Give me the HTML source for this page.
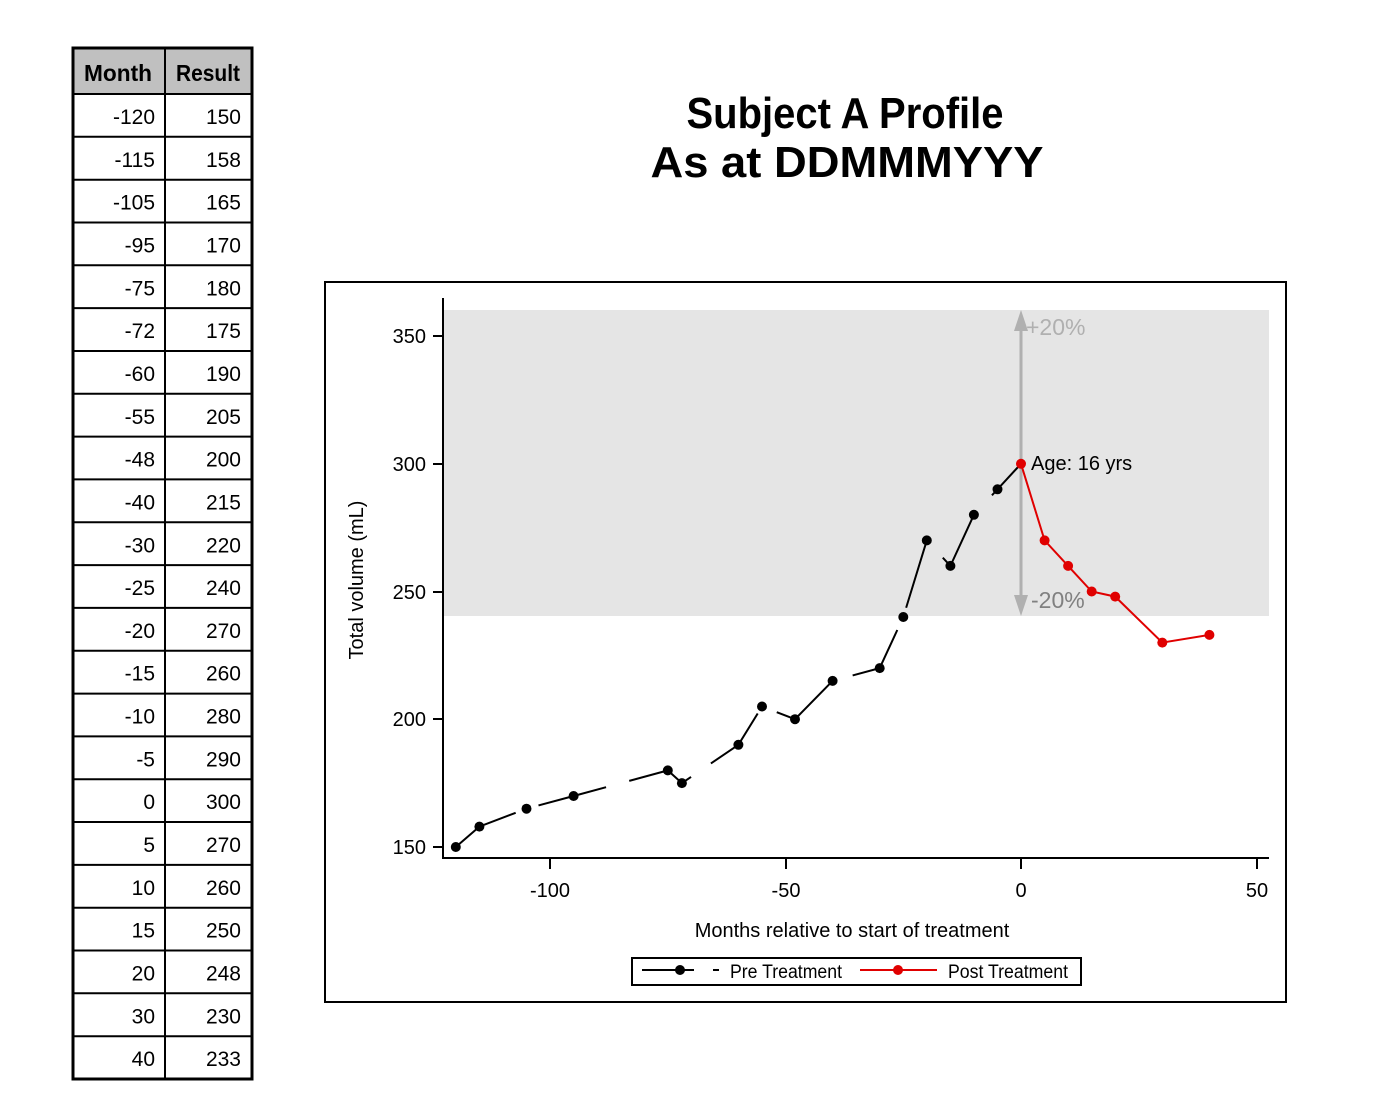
<!DOCTYPE html>
<html><head><meta charset="utf-8"><style>
html,body{margin:0;padding:0;background:#fff;}
svg{display:block;font-family:"Liberation Sans",sans-serif;}
</style></head><body>
<svg width="1379" height="1101" viewBox="0 0 1379 1101" xmlns="http://www.w3.org/2000/svg">
<!-- Table -->
<rect x="73" y="48" width="179" height="46" fill="#c0c0c0"/>
<g stroke="#000" stroke-width="2" fill="none">
<rect x="73" y="48" width="179" height="1031" stroke-width="3"/>
<line x1="165" y1="48" x2="165" y2="1079"/>
<line x1="73" y1="94" x2="252" y2="94"/>
<line x1="73" x2="252" y1="136.8" y2="136.8"/>
<line x1="73" x2="252" y1="179.7" y2="179.7"/>
<line x1="73" x2="252" y1="222.5" y2="222.5"/>
<line x1="73" x2="252" y1="265.3" y2="265.3"/>
<line x1="73" x2="252" y1="308.1" y2="308.1"/>
<line x1="73" x2="252" y1="351" y2="351"/>
<line x1="73" x2="252" y1="393.8" y2="393.8"/>
<line x1="73" x2="252" y1="436.6" y2="436.6"/>
<line x1="73" x2="252" y1="479.4" y2="479.4"/>
<line x1="73" x2="252" y1="522.3" y2="522.3"/>
<line x1="73" x2="252" y1="565.1" y2="565.1"/>
<line x1="73" x2="252" y1="607.9" y2="607.9"/>
<line x1="73" x2="252" y1="650.7" y2="650.7"/>
<line x1="73" x2="252" y1="693.6" y2="693.6"/>
<line x1="73" x2="252" y1="736.4" y2="736.4"/>
<line x1="73" x2="252" y1="779.2" y2="779.2"/>
<line x1="73" x2="252" y1="822" y2="822"/>
<line x1="73" x2="252" y1="864.9" y2="864.9"/>
<line x1="73" x2="252" y1="907.7" y2="907.7"/>
<line x1="73" x2="252" y1="950.5" y2="950.5"/>
<line x1="73" x2="252" y1="993.3" y2="993.3"/>
<line x1="73" x2="252" y1="1036.2" y2="1036.2"/>
</g>
<g font-size="21" text-anchor="end" fill="#000">
<text x="155" y="124">-120</text><text x="241" y="124">150</text>
<text x="155" y="166.8">-115</text><text x="241" y="166.8">158</text>
<text x="155" y="209.7">-105</text><text x="241" y="209.7">165</text>
<text x="155" y="252.5">-95</text><text x="241" y="252.5">170</text>
<text x="155" y="295.3">-75</text><text x="241" y="295.3">180</text>
<text x="155" y="338.1">-72</text><text x="241" y="338.1">175</text>
<text x="155" y="381">-60</text><text x="241" y="381">190</text>
<text x="155" y="423.8">-55</text><text x="241" y="423.8">205</text>
<text x="155" y="466.6">-48</text><text x="241" y="466.6">200</text>
<text x="155" y="509.4">-40</text><text x="241" y="509.4">215</text>
<text x="155" y="552.3">-30</text><text x="241" y="552.3">220</text>
<text x="155" y="595.1">-25</text><text x="241" y="595.1">240</text>
<text x="155" y="637.9">-20</text><text x="241" y="637.9">270</text>
<text x="155" y="680.7">-15</text><text x="241" y="680.7">260</text>
<text x="155" y="723.6">-10</text><text x="241" y="723.6">280</text>
<text x="155" y="766.4">-5</text><text x="241" y="766.4">290</text>
<text x="155" y="809.2">0</text><text x="241" y="809.2">300</text>
<text x="155" y="852">5</text><text x="241" y="852">270</text>
<text x="155" y="894.9">10</text><text x="241" y="894.9">260</text>
<text x="155" y="937.7">15</text><text x="241" y="937.7">250</text>
<text x="155" y="980.5">20</text><text x="241" y="980.5">248</text>
<text x="155" y="1023.3">30</text><text x="241" y="1023.3">230</text>
<text x="155" y="1066.2">40</text><text x="241" y="1066.2">233</text>
</g>
<text x="84" y="81" font-size="23" font-weight="bold" textLength="68" lengthAdjust="spacingAndGlyphs">Month</text>
<text x="176" y="81" font-size="23" font-weight="bold" textLength="64" lengthAdjust="spacingAndGlyphs">Result</text>

<!-- Title -->
<text x="845" y="128" font-size="44" font-weight="bold" text-anchor="middle" textLength="317" lengthAdjust="spacingAndGlyphs">Subject A Profile</text>
<text x="847" y="177" font-size="44" font-weight="bold" text-anchor="middle" textLength="393" lengthAdjust="spacingAndGlyphs">As at DDMMMYYY</text>

<!-- Chart frame -->
<rect x="325" y="282" width="961" height="720" fill="none" stroke="#000" stroke-width="2"/>
<rect x="444" y="310" width="825" height="306" fill="#e5e5e5"/>
<line x1="1021" y1="325" x2="1021" y2="600" stroke="#b0b0b0" stroke-width="3"/>
<polygon points="1021,310 1014,331 1028,331" fill="#b0b0b0"/>
<polygon points="1021,616 1014,595 1028,595" fill="#b0b0b0"/>
<text x="1026" y="335" font-size="23" fill="#b0b0b0">+20%</text>
<text x="1031" y="608" font-size="23" fill="#808080">-20%</text>

<g stroke="#000" stroke-width="2">
<line x1="443" y1="298" x2="443" y2="859"/>
<line x1="443" y1="858" x2="1269" y2="858"/>
<line x1="433" y1="336" x2="443" y2="336"/>
<line x1="433" y1="464" x2="443" y2="464"/>
<line x1="433" y1="592" x2="443" y2="592"/>
<line x1="433" y1="719" x2="443" y2="719"/>
<line x1="433" y1="847" x2="443" y2="847"/>
<line x1="550" y1="858" x2="550" y2="869"/>
<line x1="786" y1="858" x2="786" y2="869"/>
<line x1="1021" y1="858" x2="1021" y2="869"/>
<line x1="1257" y1="858" x2="1257" y2="869"/>
</g>
<g font-size="20" text-anchor="end">
<text x="426" y="343">350</text>
<text x="426" y="471">300</text>
<text x="426" y="599">250</text>
<text x="426" y="726">200</text>
<text x="426" y="854">150</text>
</g>
<g font-size="20" text-anchor="middle">
<text x="550" y="897">-100</text>
<text x="786" y="897">-50</text>
<text x="1021" y="897">0</text>
<text x="1257" y="897">50</text>
</g>
<text x="852" y="937" font-size="20" text-anchor="middle">Months relative to start of treatment</text>
<text transform="translate(363,580) rotate(-90)" font-size="20" text-anchor="middle">Total volume (mL)</text>

<polyline fill="none" stroke="#000" stroke-width="2" stroke-dasharray="70 24" points="455.8,847 479.4,826.6 526.5,808.7 573.6,796 667.8,770.4 681.9,783.1 738.4,744.8 762,706.5 795,719.2 832.6,680.9 879.7,668.1 903.3,617 926.8,540.4 950.4,565.9 973.9,514.8 997.5,489.3 1021,463.8"/>
<g fill="#000">
<circle cx="455.8" cy="847" r="5"/><circle cx="479.4" cy="826.6" r="5"/><circle cx="526.5" cy="808.7" r="5"/><circle cx="573.6" cy="796" r="5"/><circle cx="667.8" cy="770.4" r="5"/><circle cx="681.9" cy="783.1" r="5"/><circle cx="738.4" cy="744.8" r="5"/><circle cx="762" cy="706.5" r="5"/><circle cx="795" cy="719.2" r="5"/><circle cx="832.6" cy="680.9" r="5"/><circle cx="879.7" cy="668.1" r="5"/><circle cx="903.3" cy="617" r="5"/><circle cx="926.8" cy="540.4" r="5"/><circle cx="950.4" cy="565.9" r="5"/><circle cx="973.9" cy="514.8" r="5"/><circle cx="997.5" cy="489.3" r="5"/>
</g>
<polyline fill="none" stroke="#e00000" stroke-width="2" points="1021,463.8 1044.6,540.4 1068.1,565.9 1091.7,591.5 1115.2,596.6 1162.3,642.6 1209.4,634.9"/>
<g fill="#e00000">
<circle cx="1021" cy="463.8" r="5"/><circle cx="1044.6" cy="540.4" r="5"/><circle cx="1068.1" cy="565.9" r="5"/><circle cx="1091.7" cy="591.5" r="5"/><circle cx="1115.2" cy="596.6" r="5"/><circle cx="1162.3" cy="642.6" r="5"/><circle cx="1209.4" cy="634.9" r="5"/>
</g>
<text x="1031" y="470" font-size="20">Age: 16 yrs</text>

<rect x="632" y="958" width="449" height="27" fill="none" stroke="#000" stroke-width="2"/>
<line x1="642" y1="970" x2="694" y2="970" stroke="#000" stroke-width="2"/>
<line x1="713" y1="970" x2="719" y2="970" stroke="#000" stroke-width="2"/>
<circle cx="680" cy="970" r="5" fill="#000"/>
<text x="730" y="978" font-size="19" textLength="112" lengthAdjust="spacingAndGlyphs">Pre Treatment</text>
<line x1="860" y1="970" x2="937" y2="970" stroke="#e00000" stroke-width="2"/>
<circle cx="898" cy="970" r="5" fill="#e00000"/>
<text x="948" y="978" font-size="19" textLength="120" lengthAdjust="spacingAndGlyphs">Post Treatment</text>
</svg>
</body></html>
